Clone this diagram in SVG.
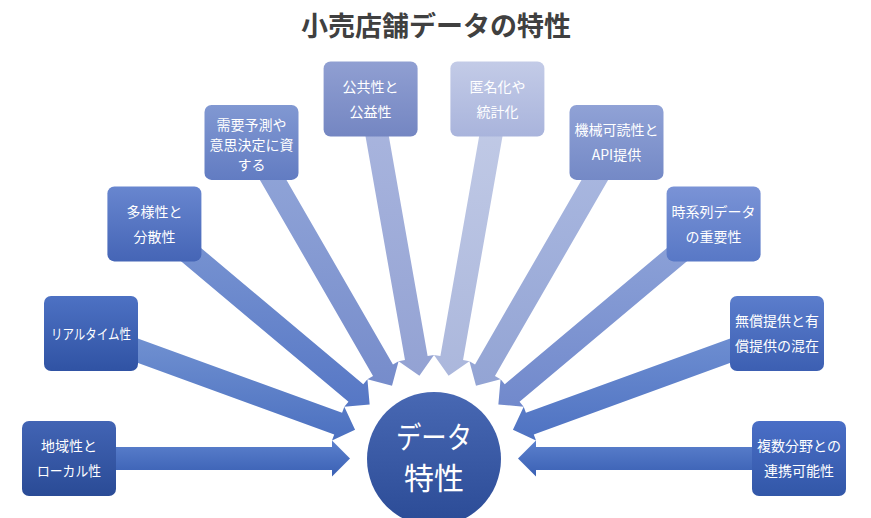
<svg xmlns="http://www.w3.org/2000/svg" width="871" height="518" viewBox="0 0 871 518">
<style>
.t{font-family:"Noto Sans CJK JP","Noto Sans",sans-serif;fill:#ffffff;font-size:14px;text-anchor:middle}
.title{font-family:"Noto Sans CJK JP","Noto Sans",sans-serif;fill:#404040;font-size:27px;font-weight:bold;text-anchor:middle}
.ct{font-family:"Noto Sans CJK JP","Noto Sans",sans-serif;fill:#ffffff;font-size:30px;text-anchor:middle}
</style>
<defs>
<linearGradient id="b0" x1="0" y1="0" x2="0" y2="1"><stop offset="0" stop-color="#4264b4"/><stop offset="1" stop-color="#2a4b96"/></linearGradient>
<linearGradient id="b1" x1="0" y1="0" x2="0" y2="1"><stop offset="0" stop-color="#4d71c3"/><stop offset="1" stop-color="#3053a4"/></linearGradient>
<linearGradient id="b2" x1="0" y1="0" x2="0" y2="1"><stop offset="0" stop-color="#6886cf"/><stop offset="1" stop-color="#4565b6"/></linearGradient>
<linearGradient id="b3" x1="0" y1="0" x2="0" y2="1"><stop offset="0" stop-color="#8198d2"/><stop offset="1" stop-color="#627cc2"/></linearGradient>
<linearGradient id="b4" x1="0" y1="0" x2="0" y2="1"><stop offset="0" stop-color="#909fd2"/><stop offset="1" stop-color="#7486c2"/></linearGradient>
<linearGradient id="b5" x1="0" y1="0" x2="0" y2="1"><stop offset="0" stop-color="#c3cbe7"/><stop offset="1" stop-color="#a9b4dc"/></linearGradient>
<linearGradient id="b6" x1="0" y1="0" x2="0" y2="1"><stop offset="0" stop-color="#90a2d6"/><stop offset="1" stop-color="#7489c6"/></linearGradient>
<linearGradient id="b7" x1="0" y1="0" x2="0" y2="1"><stop offset="0" stop-color="#7a93d6"/><stop offset="1" stop-color="#5878c6"/></linearGradient>
<linearGradient id="b8" x1="0" y1="0" x2="0" y2="1"><stop offset="0" stop-color="#5b7dcc"/><stop offset="1" stop-color="#3c5fb2"/></linearGradient>
<linearGradient id="b9" x1="0" y1="0" x2="0" y2="1"><stop offset="0" stop-color="#4a6ec6"/><stop offset="1" stop-color="#3257a8"/></linearGradient>
<linearGradient id="a0" x1="0" y1="0" x2="0" y2="1"><stop offset="0" stop-color="#5c81cd"/><stop offset="1" stop-color="#3a60b4"/></linearGradient>
<linearGradient id="a1" x1="0" y1="0" x2="0" y2="1"><stop offset="0" stop-color="#7393d2"/><stop offset="1" stop-color="#4b70c0"/></linearGradient>
<linearGradient id="a2" x1="0" y1="0" x2="0" y2="1"><stop offset="0" stop-color="#7a95d2"/><stop offset="1" stop-color="#5677c5"/></linearGradient>
<linearGradient id="a3" x1="0" y1="0" x2="0" y2="1"><stop offset="0" stop-color="#91a5d8"/><stop offset="1" stop-color="#768ccb"/></linearGradient>
<linearGradient id="a4" x1="0" y1="0" x2="0" y2="1"><stop offset="0" stop-color="#a9b5de"/><stop offset="1" stop-color="#93a2d3"/></linearGradient>
<linearGradient id="a5" x1="0" y1="0" x2="0" y2="1"><stop offset="0" stop-color="#c1cae6"/><stop offset="1" stop-color="#abb7dc"/></linearGradient>
<linearGradient id="a6" x1="0" y1="0" x2="0" y2="1"><stop offset="0" stop-color="#aab8e0"/><stop offset="1" stop-color="#93a4d4"/></linearGradient>
<linearGradient id="a7" x1="0" y1="0" x2="0" y2="1"><stop offset="0" stop-color="#8ea3d8"/><stop offset="1" stop-color="#7189cc"/></linearGradient>
<linearGradient id="a8" x1="0" y1="0" x2="0" y2="1"><stop offset="0" stop-color="#7090d2"/><stop offset="1" stop-color="#4e72c2"/></linearGradient>
<linearGradient id="a9" x1="0" y1="0" x2="0" y2="1"><stop offset="0" stop-color="#5c81cd"/><stop offset="1" stop-color="#3a60b4"/></linearGradient>
<linearGradient id="cg" x1="0" y1="0" x2="0" y2="1"><stop offset="0" stop-color="#4868b3"/><stop offset="1" stop-color="#2b4b96"/></linearGradient>
</defs>
<rect width="871" height="518" fill="#ffffff"/>
<text class="title" x="436" y="36">小売店舗データの特性</text>
<g id="connectors">
<polygon fill="url(#a0)" points="89,447 332,447 332,440.5 350,458.5 332,476.5 332,470 89,470"/>
<polygon fill="url(#a1)" points="113.74,329.69 342.08,412.8 344.31,406.7 355.07,429.77 331.99,440.52 334.22,434.42 105.88,351.31"/>
<polygon fill="url(#a2)" points="177.11,227.93 363.25,384.13 367.43,379.15 369.65,404.51 344.29,406.73 348.47,401.75 162.33,245.55"/>
<polygon fill="url(#a3)" points="271.46,153.97 392.96,364.41 398.59,361.16 392,385.75 367.41,379.16 373.04,375.91 251.54,165.47"/>
<polygon fill="url(#a4)" points="385.42,116.74 427.62,356.05 434.02,354.92 419.41,375.78 398.56,361.18 404.97,360.05 362.77,120.74"/>
<polygon fill="url(#a5)" points="505.24,120.74 463.04,360.05 469.44,361.18 448.59,375.78 433.98,354.92 440.39,356.05 482.59,116.74"/>
<polygon fill="url(#a6)" points="616.46,165.47 494.96,375.91 500.59,379.16 476,385.75 469.41,361.16 475.04,364.41 596.54,153.97"/>
<polygon fill="url(#a7)" points="705.67,245.55 519.53,401.75 523.71,406.73 498.35,404.51 500.57,379.15 504.75,384.13 690.89,227.93"/>
<polygon fill="url(#a8)" points="762.12,351.31 533.78,434.42 536.01,440.52 512.93,429.77 523.69,406.7 525.92,412.8 754.26,329.69"/>
<polygon fill="url(#a9)" points="779,470 536,470 536,476.5 518,458.5 536,440.5 536,447 779,447"/>
</g>
<g id="center">
<circle cx="434" cy="459" r="67" fill="url(#cg)"/>
<text class="ct" x="434" y="448" textLength="76" lengthAdjust="spacingAndGlyphs">データ</text>
<text class="ct" x="434" y="489">特性</text>
</g>
<g id="n0"><rect x="22" y="421" width="94" height="75" rx="7" fill="url(#b0)"/><text class="t" x="69" y="451">地域性と</text><text class="t" x="69" y="476" textLength="64" lengthAdjust="spacingAndGlyphs">ローカル性</text></g>
<g id="n1"><rect x="44" y="296" width="94" height="75" rx="7" fill="url(#b1)"/><text class="t" x="91" y="339" textLength="80" lengthAdjust="spacingAndGlyphs">リアルタイム性</text></g>
<g id="n2"><rect x="107.4" y="186.4" width="94" height="75" rx="7" fill="url(#b2)"/><text class="t" x="154.4" y="217">多様性と</text><text class="t" x="154.4" y="242">分散性</text></g>
<g id="n3"><rect x="204.5" y="104.9" width="94" height="75" rx="7" fill="url(#b3)"/><text class="t" x="251.5" y="130">需要予測や</text><text class="t" x="251.5" y="150">意思決定に資</text><text class="t" x="251.5" y="170">する</text></g>
<g id="n4"><rect x="323.6" y="61.5" width="94" height="75" rx="7" fill="url(#b4)"/><text class="t" x="370.6" y="92">公共性と</text><text class="t" x="370.6" y="117">公益性</text></g>
<g id="n5"><rect x="450.4" y="61.5" width="94" height="75" rx="7" fill="url(#b5)"/><text class="t" x="497.4" y="92">匿名化や</text><text class="t" x="497.4" y="117">統計化</text></g>
<g id="n6"><rect x="569.5" y="104.9" width="94" height="75" rx="7" fill="url(#b6)"/><text class="t" x="616.5" y="135">機械可読性と</text><text class="t" x="616.5" y="160">API提供</text></g>
<g id="n7"><rect x="666.6" y="186.4" width="94" height="75" rx="7" fill="url(#b7)"/><text class="t" x="713.6" y="217">時系列データ</text><text class="t" x="713.6" y="242">の重要性</text></g>
<g id="n8"><rect x="730" y="296" width="94" height="75" rx="7" fill="url(#b8)"/><text class="t" x="777" y="326">無償提供と有</text><text class="t" x="777" y="351">償提供の混在</text></g>
<g id="n9"><rect x="752" y="421" width="94" height="75" rx="7" fill="url(#b9)"/><text class="t" x="799" y="451">複数分野との</text><text class="t" x="799" y="476">連携可能性</text></g>
</svg>
